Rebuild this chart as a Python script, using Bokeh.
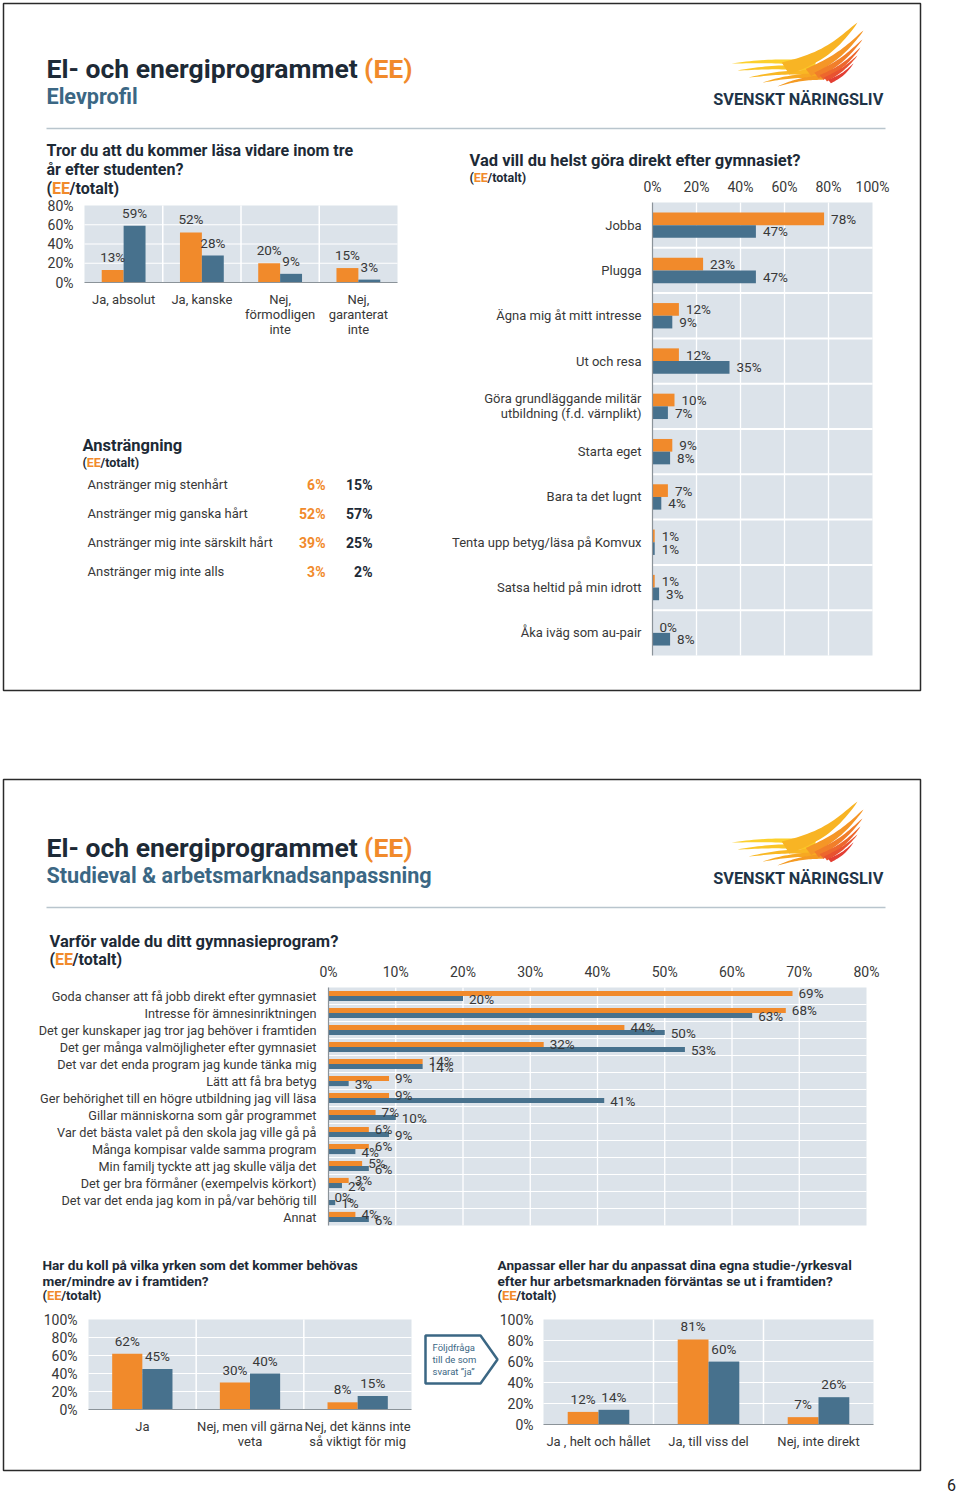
import numpy as np
from bokeh.plotting import figure
from bokeh.models import Range1d, ColumnDataSource
from bokeh.core.properties import value
from bokeh.embed import file_html
from bokeh.resources import INLINE

# ---------------- data ----------------
Q1_CATS = ["Ja, absolut", "Ja, kanske", "Nej,\nförmodligen\ninte", "Nej,\ngaranterat\ninte"]
Q1_EE = [13, 52, 20, 15]
Q1_TOT = [59, 28, 9, 3]
Q1_TICKS = [0, 20, 40, 60, 80]

Q2_CATS = ["Jobba", "Plugga", "Ägna mig åt mitt intresse", "Ut och resa",
           "Göra grundläggande militär\nutbildning (f.d. värnplikt)", "Starta eget",
           "Bara ta det lugnt", "Tenta upp betyg/läsa på Komvux",
           "Satsa heltid på min idrott", "Åka iväg som au-pair"]
Q2_EE = [78, 23, 12, 12, 10, 9, 7, 1, 1, 0]
Q2_TOT = [47, 47, 9, 35, 7, 8, 4, 1, 3, 8]
Q2_TICKS = [0, 20, 40, 60, 80, 100]

EFFORT_ROWS = ["Anstränger mig stenhårt", "Anstränger mig ganska hårt",
               "Anstränger mig inte särskilt hårt", "Anstränger mig inte alls"]
EFFORT_EE = [6, 52, 39, 3]
EFFORT_TOT = [15, 57, 25, 2]

Q3_CATS = ["Goda chanser att få jobb direkt efter gymnasiet",
           "Intresse för ämnesinriktningen",
           "Det ger kunskaper jag tror jag behöver i framtiden",
           "Det ger många valmöjligheter efter gymnasiet",
           "Det var det enda program jag kunde tänka mig",
           "Lätt att få bra betyg",
           "Ger behörighet till en högre utbildning jag vill läsa",
           "Gillar människorna som går programmet",
           "Var det bästa valet på den skola jag ville gå på",
           "Många kompisar valde samma program",
           "Min familj tyckte att jag skulle välja det",
           "Det ger bra förmåner (exempelvis körkort)",
           "Det var det enda jag kom in på/var behörig till",
           "Annat"]
Q3_EE = [69, 68, 44, 32, 14, 9, 9, 7, 6, 6, 5, 3, 0, 4]
Q3_TOT = [20, 63, 50, 53, 14, 3, 41, 10, 9, 4, 6, 2, 1, 6]
Q3_TICKS = [0, 10, 20, 30, 40, 50, 60, 70, 80]

Q4_CATS = ["Ja", "Nej, men vill gärna\nveta", "Nej, det känns inte\nså viktigt för mig"]
Q4_EE = [62, 30, 8]
Q4_TOT = [45, 40, 15]
Q4_TICKS = [0, 20, 40, 60, 80, 100]

Q5_CATS = ["Ja , helt och hållet", "Ja, till viss del", "Nej, inte direkt"]
Q5_EE = [12, 81, 7]
Q5_TOT = [14, 60, 26]
Q5_TICKS = [0, 20, 40, 60, 80, 100]

# ---------------- style ----------------
W, H = 960, 1495
ORANGE = "#f18a2b"
BLUE = "#47718d"
BG = "#dce3ea"
DARK = "#1d2a36"
TXT = "#383838"
SUBC = "#3b6784"
AXIS = "#8b9399"
FONT = value("Roboto")

p = figure(width=W, height=H, x_range=Range1d(0, W), y_range=Range1d(H, 0),
           output_backend="svg", toolbar_location=None, min_border=0,
           outline_line_color=None, x_axis_location=None, y_axis_location=None)
p.xgrid.visible = False
p.ygrid.visible = False
p.background_fill_color = "white"
p.border_fill_color = "white"


def set_x(name, d0, d1, L, R):
    s = (d1 - d0) / (R - L)
    p.extra_x_ranges[name] = Range1d(d0 - L * s, d1 + (W - R) * s)


def set_y(name, d_top, d_bot, T, B):
    s = (d_top - d_bot) / (B - T)
    p.extra_y_ranges[name] = Range1d(d_bot - (H - B) * s, d_top + T * s)


def text(x, y, labels, size, color=TXT, bold=False, align="left", baseline="middle", **kw):
    src = ColumnDataSource(dict(x=list(x), y=list(y), text=list(labels)))
    p.text(x="x", y="y", text="text", source=src, text_font=FONT,
           text_font_size=f"{size}px", text_font_style="bold" if bold else "normal",
           text_color=color, text_align=align, text_baseline=baseline, **kw)


def pct(vals):
    return [f"{v}%" for v in vals]


def ee_totalt(x, y, fs):
    text([x], [y], ["("], fs, DARK, True)
    x1 = x + 0.345 * fs
    text([x1], [y], ["EE"], fs, ORANGE, True)
    text([x1 + 1.1 * fs], [y], ["/totalt)"], fs, DARK, True)


def feather(bx, by, tx, ty, w, bend):
    t = np.linspace(0, 1, 24)
    dx, dy = tx - bx, ty - by
    ln = np.hypot(dx, dy)
    nx, ny = -dy / ln, dx / ln
    cx = bx + dx * t + bend * np.sin(np.pi * t) * nx
    cy = by + dy * t + bend * np.sin(np.pi * t) * ny
    hw = w / 2 * (1 - t) ** 0.7
    xs = np.concatenate([cx + hw * nx, (cx - hw * nx)[::-1]])
    ys = np.concatenate([cy + hw * ny, (cy - hw * ny)[::-1]])
    return list(xs), list(ys)


LOGO_FEATHERS = [
    (815, 63, 731, 63, 6, 2, "#fcd02c"),
    (816, 68, 737, 70, 6, 2, "#fac527"),
    (818, 72, 748, 77, 5.5, 2, "#f9b824"),
    (820, 75, 762, 82, 5, 2, "#f7a822"),
    (822, 77, 777, 86, 4.5, 2, "#f49a23"),
    (785, 68, 857, 22, 14, 7, "#f8b424"),
    (808, 72, 863, 30, 9, 4, "#f59627"),
    (816, 75, 862, 39, 7, 3, "#f17e2a"),
    (821, 77, 860, 47, 6, 3, "#ed672d"),
    (825, 79, 857, 55, 5, 2, "#e85230"),
    (829, 81, 853, 63, 4.5, 2, "#e33f33"),
]


def header(dy, subtitle):
    text([46], [68 + dy], ["El- och energiprogrammet"], 26.5, DARK, True)
    text([412], [68 + dy], ["(EE)"], 26.5, ORANGE, True, align="right")
    text([46], [96 + dy], [subtitle], 21.6, SUBC, True)
    p.segment(x0=[46], x1=[885], y0=[128 + dy], y1=[128 + dy], line_color="#b9c5cd", line_width=1.5)
    xs, ys, cs = [], [], []
    for bx, by, tx, ty, w, bend, c in LOGO_FEATHERS:
        fx, fy = feather(bx, by + dy, tx, ty + dy, w, bend)
        xs.append(fx); ys.append(fy); cs.append(c)
    p.patches(xs, ys, fill_color=cs, line_color=None)
    text([798], [99 + dy], ["SVENSKT NÄRINGSLIV"], 16.3, "#1e3448", True, align="center")


BW = 0.28


def vchart(key, cats, ee, tot, ticks, L, R, T, B, tick_x, cat_y):
    n = len(cats)
    top = ticks[-1]
    xr, yr = key + "_x", key + "_y"
    set_x(xr, 0, n, L, R)
    set_y(yr, top, 0, T, B)
    kw = dict(x_range_name=xr, y_range_name=yr)
    p.quad(left=[0], right=[n], bottom=[0], top=[top], fill_color=BG, line_color=None, **kw)
    inner = ticks[1:-1]
    p.segment(x0=[0] * len(inner), x1=[n] * len(inner), y0=inner, y1=inner,
              line_color="white", line_width=1.2, **kw)
    seps = list(range(1, n))
    p.segment(x0=seps, x1=seps, y0=[0] * len(seps), y1=[top] * len(seps),
              line_color="white", line_width=1.5, **kw)
    xc = np.arange(n) + 0.5
    p.vbar(x=list(xc - BW / 2), width=BW, bottom=0, top=ee, fill_color=ORANGE, line_color=None, **kw)
    p.vbar(x=list(xc + BW / 2), width=BW, bottom=0, top=tot, fill_color=BLUE, line_color=None, **kw)
    p.segment(x0=[0], x1=[n], y0=[0], y1=[0], line_color=AXIS, line_width=1, **kw)
    text(xc - BW / 2, ee, pct(ee), 13.5, align="center", y_offset=-13, **kw)
    text(xc + BW / 2, tot, pct(tot), 13.5, align="center", y_offset=-13, **kw)
    text([tick_x] * len(ticks), ticks, pct(ticks), 14, align="right", y_range_name=yr)
    text(xc, [cat_y] * n, cats, 13, align="center", baseline="top", x_range_name=xr,
         text_line_height=1.0)


def hchart(key, cats, ee, tot, ticks, L, R, T, B, tick_y, cat_x, bh, fs_cat, fs_val, sep_w, off):
    n = len(cats)
    right = ticks[-1]
    xr, yr = key + "_x", key + "_y"
    set_x(xr, 0, right, L, R)
    set_y(yr, 0, n, T, B)
    kw = dict(x_range_name=xr, y_range_name=yr)
    p.quad(left=[0], right=[right], top=[0], bottom=[n], fill_color=BG, line_color=None, **kw)
    inner = ticks[1:-1]
    p.segment(x0=inner, x1=inner, y0=[0] * len(inner), y1=[n] * len(inner),
              line_color="white", line_width=1.3, **kw)
    seps = list(range(1, n))
    p.segment(x0=[0] * len(seps), x1=[right] * len(seps), y0=seps, y1=seps,
              line_color="white", line_width=sep_w, **kw)
    yc = np.arange(n) + 0.5
    p.hbar(y=list(yc - bh / 2), height=bh, left=0, right=ee, fill_color=ORANGE, line_color=None, **kw)
    p.hbar(y=list(yc + bh / 2), height=bh, left=0, right=tot, fill_color=BLUE, line_color=None, **kw)
    p.segment(x0=[0], x1=[0], y0=[0], y1=[n], line_color=AXIS, line_width=1.2, **kw)
    text(ee, yc - bh / 2, pct(ee), fs_val, x_offset=off, **kw)
    text(tot, yc + bh / 2, pct(tot), fs_val, x_offset=off, **kw)
    text(ticks, [tick_y] * len(ticks), pct(ticks), 14, align="center", x_range_name=xr)
    text([cat_x] * n, yc, cats, fs_cat, align="right", y_range_name=yr, text_line_height=1.0)


# ---------------- page frames ----------------
p.quad(left=[3, 3], right=[920, 920], top=[3, 779], bottom=[690, 1470],
       fill_color=None, line_color="#2a2a2a", line_width=1.5)

# ---------------- page 1 ----------------
header(0, "Elevprofil")

text([46, 46], [150, 169], ["Tror du att du kommer läsa vidare inom tre", "år efter studenten?"], 16, DARK, True)
ee_totalt(46, 188, 16)
vchart("q1", Q1_CATS, Q1_EE, Q1_TOT, Q1_TICKS, 84, 397, 205, 282, 73, 291)

text([82], [445], ["Ansträngning"], 16.5, DARK, True)
ee_totalt(82, 462, 12.5)
EFF_Y = [484 + 29 * i for i in range(len(EFFORT_ROWS))]
text([87] * len(EFFORT_ROWS), EFF_Y, EFFORT_ROWS, 13)
text([325] * len(EFFORT_EE), EFF_Y, pct(EFFORT_EE), 14, ORANGE, True, align="right")
text([372] * len(EFFORT_TOT), EFF_Y, pct(EFFORT_TOT), 14, DARK, True, align="right")

text([469], [160], ["Vad vill du helst göra direkt efter gymnasiet?"], 16.5, DARK, True)
ee_totalt(469, 177, 12.5)
hchart("q2", Q2_CATS, Q2_EE, Q2_TOT, Q2_TICKS, 652, 872, 202, 655, 186, 641,
       0.28, 13, 13.5, 2, 7)

# ---------------- page 2 ----------------
header(779, "Studieval & arbetsmarknadsanpassning")

text([49], [941], ["Varför valde du ditt gymnasieprogram?"], 16.5, DARK, True)
ee_totalt(49, 959, 16)
hchart("q3", Q3_CATS, Q3_EE, Q3_TOT, Q3_TICKS, 328, 866, 987, 1225, 971, 316,
       0.3, 12.7, 13.5, 1.2, 6)

text([42, 42], [1264, 1280], ["Har du koll på vilka yrken som det kommer behövas", "mer/mindre av i framtiden?"], 13.6, DARK, True)
ee_totalt(42, 1295, 13)
vchart("q4", Q4_CATS, Q4_EE, Q4_TOT, Q4_TICKS, 88, 411, 1319, 1409, 77, 1418)

p.patch(x=[425, 480, 497, 480, 425], y=[1335, 1335, 1359, 1383, 1383],
        fill_color="white", line_color=SUBC, line_width=2.5)
text([432, 432, 432], [1347, 1359, 1371], ["Följdfråga", "till de som", "svarat \u201dja\u201d"], 9.5, SUBC)

text([497, 497], [1264, 1280], ["Anpassar eller har du anpassat dina egna studie-/yrkesval",
                                "efter hur arbetsmarknaden förväntas  se ut i framtiden?"], 13.6, DARK, True)
ee_totalt(497, 1295, 13)
vchart("q5", Q5_CATS, Q5_EE, Q5_TOT, Q5_TICKS, 543, 873, 1319, 1424, 533, 1433)

text([951], [1484], ["6"], 16, "#222222", align="center")

open("out.html", "w").write(file_html(p, INLINE))
